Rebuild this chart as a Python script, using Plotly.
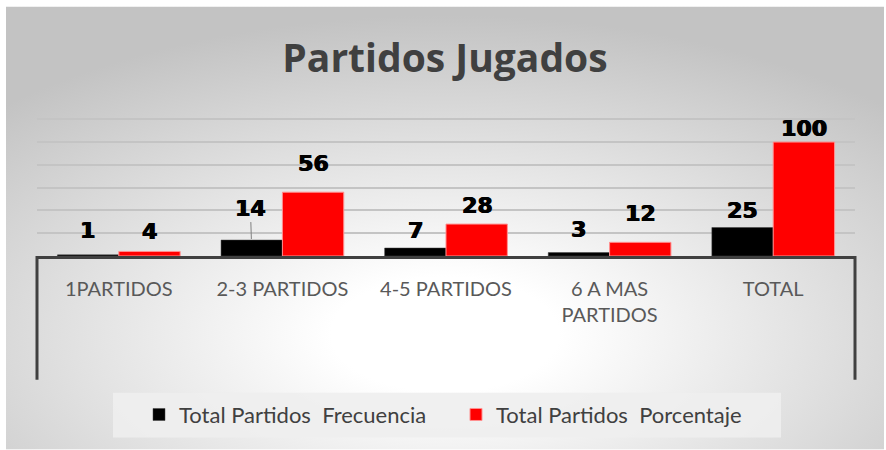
import base64
import plotly.graph_objects as go

# ---- data ----
categories = ["1PARTIDOS", "2-3 PARTIDOS", "4-5 PARTIDOS", "6 A MAS<br>PARTIDOS", "TOTAL"]
frecuencia = [1, 14, 7, 3, 25]
porcentaje = [4, 56, 28, 12, 100]
series_names = ["Total Partidos\u00a0 Frecuencia", "Total Partidos\u00a0 Porcentaje"]
title_text = "Partidos Jugados"

# label lift above each bar top (px), as placed in the original
lift_frec = [24, 32, 18, 23, 17]
lift_porc = [20, 29, 19, 29, 14]

W, H = 886, 450
Y_MAX = 122                            # a bit over 120 so the top gridline is drawn
PX_PER_UNIT = 1.1417                   # 100 units ~ 114 px in the original
L, R, B = 37, 31, 194
T = H - B - Y_MAX * PX_PER_UNIT
PH = H - T - B                         # plot height in px
PW = W - L - R


def px_x(x):
    return (x - L) / PW


def px_y(y):
    return (H - B - y) / PH


def gradient_uri():
    svg = (
        "<svg xmlns='http://www.w3.org/2000/svg' width='878' height='444' preserveAspectRatio='none'>"
        "<defs><radialGradient id='g' cx='0.5' cy='0.74' r='0.72'>"
        "<stop offset='0' stop-color='#ffffff'/>"
        "<stop offset='0.18' stop-color='#ffffff'/>"
        "<stop offset='1' stop-color='#c3c3c3'/>"
        "</radialGradient></defs>"
        "<rect width='100%' height='100%' fill='url(#g)'/></svg>"
    )
    return "data:image/svg+xml;base64," + base64.b64encode(svg.encode()).decode()


fig = go.Figure()
fig.add_trace(go.Bar(x=categories, y=frecuencia, name=series_names[0],
                     marker=dict(color="#000000", line=dict(color="#404040", width=0.5))))
fig.add_trace(go.Bar(x=categories, y=porcentaje, name=series_names[1],
                     marker=dict(color="#ff0000", line=dict(color="#ff9090", width=1))))

# heavy label look (the original uses Arial Black)
label_font = dict(family="DejaVu Sans", size=22, color="#000000",
                  shadow="0.8px 0 0 #000, -0.4px 0 0 #000")
annotations = []
for cat, v, lift in zip(categories, frecuencia, lift_frec):
    if v == 14:
        # this one sits off the bar with a short leader line
        annotations.append(dict(x=cat, y=v, xshift=-31, text=f"<b>{v}</b>", showarrow=True,
                                arrowhead=0, arrowwidth=1, arrowcolor="#808080",
                                ax=-1, ay=-lift, standoff=1, font=label_font))
    else:
        annotations.append(dict(x=cat, y=v, xshift=-31, yshift=lift, text=f"<b>{v}</b>",
                                showarrow=False, yanchor="middle", font=label_font))
for cat, v, lift in zip(categories, porcentaje, lift_porc):
    annotations.append(dict(x=cat, y=v, xshift=31, yshift=lift, text=f"<b>{v}</b>",
                            showarrow=False, yanchor="middle", font=label_font))

shapes = [
    # legend panel
    dict(type="rect", xref="paper", yref="paper", x0=px_x(113), x1=px_x(781),
         y0=px_y(393), y1=px_y(438), fillcolor="rgba(238,238,238,0.9)", line=dict(width=0),
         layer="below"),
    # category axis box sides
    dict(type="line", xref="paper", yref="paper", x0=0, x1=0, y0=0, y1=px_y(380),
         line=dict(color="#404040", width=3)),
    dict(type="line", xref="paper", yref="paper", x0=1, x1=1, y0=0, y1=px_y(380),
         line=dict(color="#404040", width=3)),
]

fig.update_layout(
    width=W, height=H,
    margin=dict(l=L, r=R, t=T, b=B),
    paper_bgcolor="#ffffff",
    plot_bgcolor="rgba(0,0,0,0)",
    barmode="group", bargap=0.25, bargroupgap=0,
    title=dict(text=f"<b>{title_text}</b>", x=445 / W, xref="container", xanchor="center",
               y=1 - 58 / H, yref="container", yanchor="middle",
               font=dict(family="Open Sans", size=39, color="#404040")),
    xaxis=dict(showline=True, linecolor="#404040", linewidth=3, ticks="",
               ticklabelstandoff=13, tickfont=dict(family="Lato", size=20, color="#595959"),
               showgrid=False),
    yaxis=dict(range=[0, Y_MAX], tickvals=[20, 40, 60, 80, 100, 120], showticklabels=False,
               showgrid=True, gridcolor="#c4c4c4", gridwidth=1.5, zeroline=False, showline=False),
    legend=dict(orientation="h", x=px_x(139), xanchor="left", y=px_y(415), yanchor="middle",
                bgcolor="rgba(0,0,0,0)", entrywidth=272, entrywidthmode="pixels",
                font=dict(family="Lato", size=22, color="#404040")),
    annotations=annotations,
    shapes=shapes,
    images=[dict(source=gradient_uri(), xref="paper", yref="paper",
                 x=px_x(6), y=px_y(6), sizex=878 / PW, sizey=444 / PH,
                 sizing="stretch", xanchor="left", yanchor="top", layer="below")],
)

# drop the page's default body margin so the figure sits at the window origin
fig.write_html("out.html", config={"displayModeBar": False},
               post_script="document.body.style.margin='0px';")
